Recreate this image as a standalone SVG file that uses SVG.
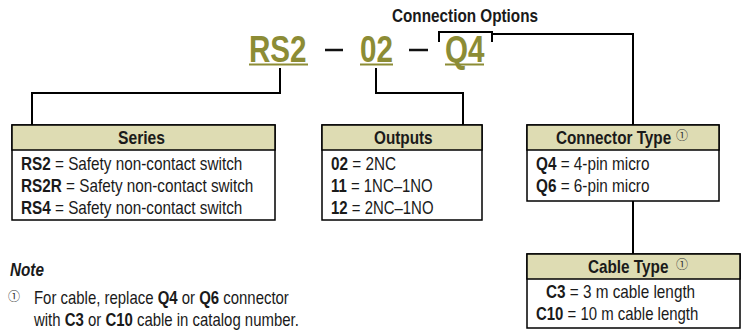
<svg xmlns="http://www.w3.org/2000/svg" width="741" height="330" viewBox="0 0 741 330">
<style>
text{font-family:"Liberation Sans",Arial,sans-serif;fill:#1a1a1a}
.b{font-weight:bold}
.hd{font-size:18px;font-weight:bold}
.row{font-size:18px}
.big{font-size:37px;font-weight:bold;fill:#8c8c35}
.box{fill:#fff;stroke:#000;stroke-width:1.5}
.hdr{fill:#dedcb3;stroke:#000;stroke-width:1.5}
.ln{fill:none;stroke:#000;stroke-width:2}
.sup{font-family:"Noto Sans CJK JP","DejaVu Sans",sans-serif;font-size:12px;fill:#333}
</style>
<rect width="741" height="330" fill="#fff"/>
<g id="title">
<text class="hd" transform="translate(392 22) scale(.85 1)">Connection Options</text>
<text class="big" transform="translate(249 62) scale(.8 1)">RS2</text>
<text class="big" transform="translate(360 62) scale(.8 1)">02</text>
<text class="big" transform="translate(445 62) scale(.8 1)">Q4</text>
<line x1="249" y1="64.5" x2="308" y2="64.5" stroke="#8c8c35" stroke-width="2"/>
<line x1="360" y1="64.5" x2="393" y2="64.5" stroke="#8c8c35" stroke-width="2"/>
<line x1="445" y1="64.5" x2="484" y2="64.5" stroke="#8c8c35" stroke-width="2"/>
<line x1="325" y1="50" x2="343" y2="50" stroke="#111" stroke-width="2.5"/>
<line x1="409" y1="50" x2="428" y2="50" stroke="#111" stroke-width="2.5"/>
</g>
<g id="connectors">
<path class="ln" d="M280 68V93H32V125"/>
<path class="ln" d="M376 68V93H463V125"/>
<path class="ln" d="M439 42V32H492V42M492 34H633V125"/>
<path class="ln" d="M633 201V254"/>
</g>
<g id="series">
<rect class="box" x="12" y="125" width="263" height="95"/>
<rect class="hdr" x="12" y="125" width="263" height="25"/>
<text class="hd" transform="translate(118 144) scale(.87 1)">Series</text>
<text class="row" transform="translate(21 170) scale(.85 1)"><tspan class="b">RS2</tspan> = Safety non-contact switch</text>
<text class="row" transform="translate(21 192) scale(.85 1)"><tspan class="b">RS2R</tspan> = Safety non-contact switch</text>
<text class="row" transform="translate(21 214) scale(.85 1)"><tspan class="b">RS4</tspan> = Safety non-contact switch</text>
</g>
<g id="outputs">
<rect class="box" x="322" y="125" width="160" height="95"/>
<rect class="hdr" x="322" y="125" width="160" height="25"/>
<text class="hd" transform="translate(374 144) scale(.85 1)">Outputs</text>
<text class="row" transform="translate(331 170) scale(.85 1)"><tspan class="b">02</tspan> = 2NC</text>
<text class="row" transform="translate(331 192) scale(.83 1)"><tspan class="b">11</tspan> = 1NC–1NO</text>
<text class="row" transform="translate(331 214) scale(.83 1)"><tspan class="b">12</tspan> = 2NC–1NO</text>
</g>
<g id="connector-type">
<rect class="box" x="527" y="125" width="192" height="76"/>
<rect class="hdr" x="527" y="125" width="192" height="25"/>
<text class="hd" transform="translate(556 144) scale(.85 1)">Connector Type</text>
<text class="sup" x="676" y="140">①</text>
<text class="row" transform="translate(536 170) scale(.85 1)"><tspan class="b">Q4</tspan> = 4-pin micro</text>
<text class="row" transform="translate(536 192) scale(.85 1)"><tspan class="b">Q6</tspan> = 6-pin micro</text>
</g>
<g id="cable-type">
<rect class="box" x="527" y="254" width="213" height="74"/>
<rect class="hdr" x="527" y="254" width="213" height="25"/>
<text class="hd" transform="translate(588 273) scale(.85 1)">Cable Type</text>
<text class="sup" x="676" y="269">①</text>
<text class="row" transform="translate(546 298) scale(.85 1)"><tspan class="b">C3</tspan> = 3 m cable length</text>
<text class="row" transform="translate(536 320) scale(.83 1)"><tspan class="b">C10</tspan> = 10 m cable length</text>
</g>
<g id="note">
<text class="b" transform="translate(10 276) scale(.85 1)" font-size="18" font-style="italic">Note</text>
<text class="sup" x="8" y="301" font-size="13">①</text>
<text class="row" transform="translate(34 304) scale(.83 1)">For cable, replace <tspan class="b">Q4</tspan> or <tspan class="b">Q6</tspan> connector</text>
<text class="row" transform="translate(34 326) scale(.83 1)">with <tspan class="b">C3</tspan> or <tspan class="b">C10</tspan> cable in catalog number.</text>
</g>
</svg>
